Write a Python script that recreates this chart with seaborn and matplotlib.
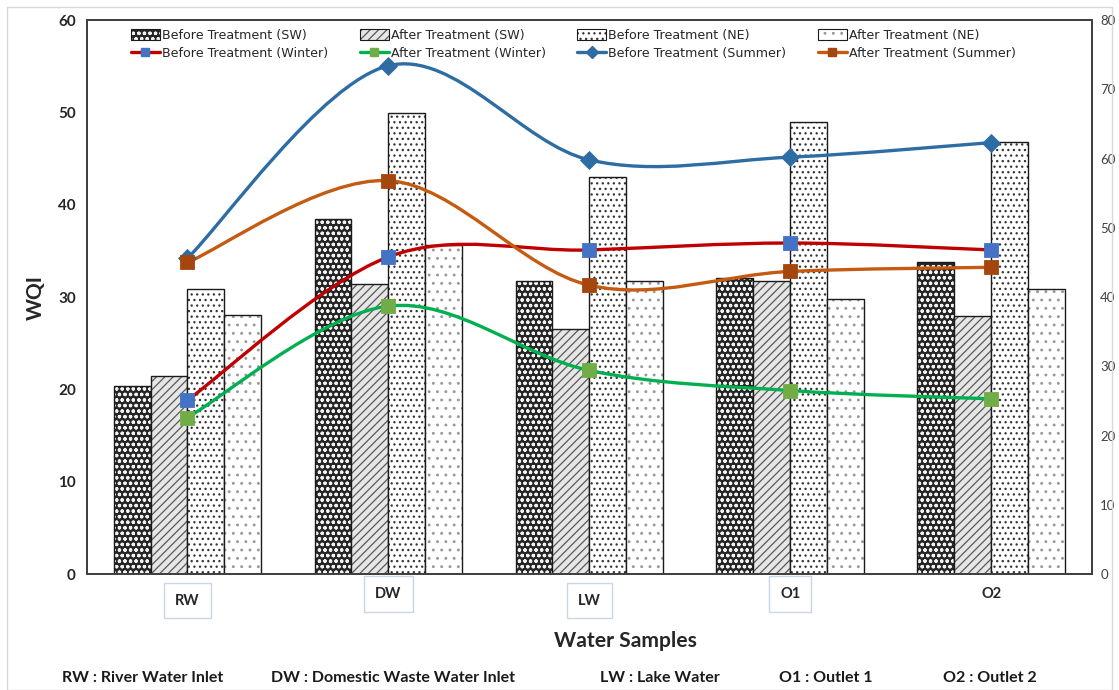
import numpy as np
import pandas as pd
import matplotlib.pyplot as plt
import matplotlib.colors as mcolors
from matplotlib.path import Path
from matplotlib.patches import PathPatch, Patch, Rectangle
from matplotlib.lines import Line2D
import seaborn as sns

# data
samples = ['RW', 'DW', 'LW', 'O1', 'O2']
bar_series = ['Before Treatment (SW)', 'After Treatment (SW)',
              'Before Treatment (NE)', 'After Treatment (NE)']
before_sw = [20.4, 38.5, 31.7, 32.1, 33.8]
after_sw = [21.5, 31.4, 26.5, 31.7, 28.0]
before_ne = [30.9, 49.9, 43.0, 49.0, 46.8]
after_ne = [28.1, 35.6, 31.7, 29.8, 30.9]

# line series sit on the right axis (0-80)
line_series = ['Before Treatment (Winter)', 'After Treatment (Winter)',
               'Before Treatment (Summer)', 'After Treatment (Summer)']
before_winter = [25.1, 45.8, 46.8, 47.8, 46.8]
after_winter = [22.6, 38.7, 29.4, 26.5, 25.3]
before_summer = [45.6, 73.4, 59.8, 60.2, 62.3]
after_summer = [45.0, 56.8, 41.7, 43.7, 44.3]

abbreviations = ['RW : River Water Inlet', 'DW : Domestic Waste Water Inlet',
                 'LW : Lake Water', 'O1 : Outlet 1', 'O2 : Outlet 2']

sns.set_style('white')
plt.rcParams['font.family'] = ['Lato', 'DejaVu Sans']
plt.rcParams['hatch.linewidth'] = 0.9

df = pd.DataFrame({
    'sample': samples * 4,
    'series': np.repeat(bar_series, len(samples)),
    'wqi': before_sw + after_sw + before_ne + after_ne,
})

# face colour, hatch, hatch colour for each bar series
bar_styles = [
    ('#262626', 'ooo', '#f2f2f2'),
    ('#e6e6e6', '////', '#595959'),
    ('#ffffff', '...', '#333333'),
    ('#ffffff', '..', '#999999'),
]
# line colour, marker colour, marker
line_styles = [
    ('#c00000', '#4472c4', 's'),
    ('#00b050', '#70ad47', 's'),
    ('#2e6da4', '#2e6da4', 'D'),
    ('#c55a11', '#a5460e', 's'),
]

fig = plt.figure(figsize=(11.19, 6.9), dpi=100)
ax = fig.add_axes([0.0777, 0.168, 0.898, 0.803])

sns.barplot(data=df, x='sample', y='wqi', hue='series', order=samples,
            hue_order=bar_series, width=0.735, gap=0, ax=ax, legend=False)

for cont, (fc, htch, hc) in zip(ax.containers, bar_styles):
    for p in cont.patches:
        p.set_facecolor(fc)
        p.set_edgecolor('#1a1a1a')
        p.set_linewidth(1.0)
        p.set_hatch(htch)
        p._hatch_color = mcolors.to_rgba(hc)

ax.set_xlim(-0.5, len(samples) - 0.5)
ax.set_ylim(0, 60)
ax.set_yticks(range(0, 61, 10))
ax.tick_params(axis='y', length=0, pad=8, labelsize=11, labelcolor='#262626')
for lab in ax.get_yticklabels():
    lab.set_fontweight('bold')
ax.set_ylabel('WQI', fontsize=15, fontweight='bold', labelpad=9)
ax.set_xlabel('Water Samples', fontsize=15.2, fontweight='bold', labelpad=17)
ax.xaxis.label.set_x(0.536)

# boxed category labels, slightly staggered like the original
ax.tick_params(axis='x', length=0, labelsize=10.5)
pads = [14, 9, 14, 9, 9]
for tick, pad in zip(ax.xaxis.get_major_ticks(), pads):
    tick.set_pad(pad)
for i, lab in enumerate(ax.get_xticklabels()):
    lab.set_fontweight('bold')
    if i < len(samples) - 1:
        lab.set_bbox(dict(boxstyle='square,pad=0.75', facecolor='white',
                          edgecolor='#c9d6e3', linewidth=1.0))

for sp in ax.spines.values():
    sp.set_color('#404040')
    sp.set_linewidth(1.3)


def smooth_path(xs, ys):
    # excel-like smoothed line through the points (bezier segments)
    pts = np.column_stack([xs, ys]).astype(float)
    ext = np.vstack([pts[0], pts, pts[-1]])
    verts = [pts[0]]
    codes = [Path.MOVETO]
    for i in range(len(pts) - 1):
        p0, p1, p2, p3 = ext[i], ext[i + 1], ext[i + 2], ext[i + 3]
        verts += [p1 + (p2 - p0) / 6, p2 - (p3 - p1) / 6, p2]
        codes += [Path.CURVE4] * 3
    return Path(verts, codes)


ax2 = ax.twinx()
xpos = np.arange(len(samples))
for vals, (lc, mc, mk) in zip([before_winter, after_winter, before_summer, after_summer],
                              line_styles):
    ax2.add_patch(PathPatch(smooth_path(xpos, vals), facecolor='none',
                            edgecolor=lc, linewidth=2.4, zorder=3))
    ax2.plot(xpos, vals, linestyle='none', marker=mk, markersize=10 if mk == 's' else 9.5,
             markerfacecolor=mc, markeredgecolor=mc, markeredgewidth=0.6, zorder=4)

ax2.set_ylim(0, 80)
ax2.set_yticks(range(0, 81, 10))
ax2.tick_params(axis='y', length=0, pad=6, labelsize=9.5, labelcolor='#404040')
ax2.set_xlim(-0.5, len(samples) - 0.5)
for sp in ax2.spines.values():
    sp.set_color('#404040')
    sp.set_linewidth(1.3)

# legend: four bar entries on the first row, four lines on the second
bar_handles = [Patch(facecolor=fc, edgecolor='#1a1a1a', hatch=h, linewidth=0.8)
               for fc, h, hc in bar_styles]
line_handles = [Line2D([], [], color=lc, linewidth=2.4, marker=mk, markersize=6,
                       markerfacecolor=mc, markeredgecolor=mc)
                for lc, mc, mk in line_styles]
handles, labels = [], []
for k in range(4):
    handles += [bar_handles[k], line_handles[k]]
    labels += [bar_series[k], line_series[k]]
leg = ax2.legend(handles, labels, ncol=4, loc='upper left', bbox_to_anchor=(0.035, 1.0),
                 frameon=False, prop={'family': 'DejaVu Sans', 'size': 9.1},
                 handlelength=2.3, handleheight=0.85, handletextpad=0.15,
                 columnspacing=2.5, labelspacing=0.4, borderaxespad=0.3)
for lp, (fc, h, hc) in zip(leg.get_patches(), bar_styles):
    lp._hatch_color = mcolors.to_rgba(hc)

# abbreviation key along the bottom
key_x = [0.055, 0.242, 0.536, 0.696, 0.843]
for x, txt in zip(key_x, abbreviations):
    fig.text(x, 0.012, txt, fontsize=11.5, fontweight='bold', color='#1a1a1a')

fig.patches.append(Rectangle((0.006, 0.0), 0.988, 0.99, transform=fig.transFigure,
                             fill=False, edgecolor='#d9d9d9', linewidth=1.0))

fig.savefig('out.png', dpi=100)
